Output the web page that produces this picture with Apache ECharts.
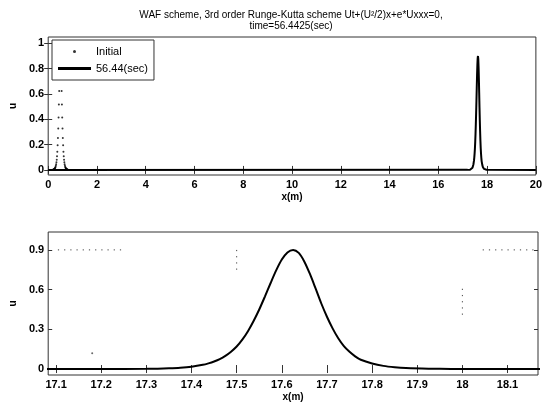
<!DOCTYPE html>
<html><head><meta charset="utf-8">
<script src="https://cdn.jsdelivr.net/npm/echarts@6/dist/echarts.min.js"></script>
<style>html,body{margin:0;padding:0;background:#fff}#c{width:545px;height:407px}</style>
</head><body><div id="c"></div>
<script>
// ---- data ----
const titleLines = ['WAF scheme, 3rd order Runge-Kutta scheme Ut+(U\u00B2/2)x+e*Uxxx=0,', 'time=56.4425(sec)'];
const legendNames = ['Initial', '56.44(sec)'];
const topXTicks = [0, 2, 4, 6, 8, 10, 12, 14, 16, 18, 20];
const topYTicks = [0, 0.2, 0.4, 0.6, 0.8, 1];
const botXTicks = [17.1, 17.2, 17.3, 17.4, 17.5, 17.6, 17.7, 17.8, 17.9, 18, 18.1];
const botYTicks = [0, 0.3, 0.6, 0.9];

// final profile at t = 56.44 s
const finalX = [0, 17.2, 17.3, 17.325, 17.35, 17.375, 17.4, 17.425, 17.4375, 17.45, 17.4625, 17.475, 17.4875, 17.5, 17.5125, 17.525, 17.5375, 17.55, 17.5625, 17.575, 17.5875, 17.6, 17.6125, 17.625, 17.6375, 17.65, 17.6625, 17.675, 17.6875, 17.7, 17.7125, 17.725, 17.7375, 17.75, 17.7625, 17.775, 17.8, 17.825, 17.85, 17.875, 17.925, 17.975, 18.05, 20];
const finalU = [0, 0.0005, 0.002, 0.003, 0.0056, 0.010, 0.018, 0.032, 0.043, 0.057, 0.075, 0.0995, 0.131, 0.170, 0.222, 0.286, 0.363, 0.450, 0.547, 0.648, 0.745, 0.827, 0.881, 0.9, 0.877, 0.811, 0.716, 0.607, 0.495, 0.395, 0.307, 0.232, 0.173, 0.130, 0.096, 0.070, 0.042, 0.024, 0.014, 0.008, 0.003, 0.001, 0, 0];

// initial profile (dots)
const initX = [0.2, 0.2125, 0.225, 0.2375, 0.25, 0.2625, 0.275, 0.2875, 0.3, 0.3125, 0.325, 0.3375, 0.35, 0.3625, 0.375, 0.3875, 0.4, 0.4125, 0.425, 0.4375, 0.45, 0.4625, 0.475, 0.4875, 0.5, 0.5125, 0.525, 0.5375, 0.55, 0.5625, 0.575, 0.5875, 0.6, 0.6125, 0.625, 0.6375, 0.65, 0.6625, 0.675, 0.6875, 0.7, 0.7125, 0.725, 0.7375, 0.75, 0.7625, 0.775, 0.7875, 0.8];
const initU = [0.002, 0.0027, 0.0037, 0.005, 0.007, 0.0095, 0.013, 0.018, 0.024, 0.033, 0.044, 0.060, 0.081, 0.109, 0.144, 0.195, 0.252, 0.327, 0.415, 0.516, 0.623, 0.728, 0.818, 0.878, 0.9, 0.878, 0.818, 0.728, 0.623, 0.516, 0.415, 0.327, 0.252, 0.195, 0.144, 0.109, 0.081, 0.060, 0.044, 0.033, 0.024, 0.018, 0.013, 0.0095, 0.007, 0.005, 0.0037, 0.0027, 0.002];

// stray dotted marks visible in the lower panel
const markAX = [17.104, 17.25], markAU = [0.9, 0.9];
const markBX = [18.045, 18.165], markBU = [0.9, 0.9];
const markCX = [17.5, 17.5], markCU = [0.75, 0.92];
const markDX = [18, 18], markDU = [0.41, 0.61];
const markEX = [17.18], markEU = [0.12];

const zip = (xs, ys) => xs.map((x, i) => [x, ys[i]]);

const font = 'Liberation Sans, Arial, sans-serif';
const lblStyle = { color: '#000', fontFamily: font, fontSize: 11, fontWeight: 'bold' };

function mainX(grid, min, max, ticks, show) {
  return {
    type: 'value', gridIndex: grid, min, max, position: show ? 'bottom' : 'top',
    name: show ? 'x(m)' : '', nameLocation: 'middle', nameGap: 17,
    nameTextStyle: { color: '#000', fontFamily: font, fontSize: 10, fontWeight: 'bold' },
    axisLine: { show: false },
    axisTick: { show: true, inside: true, length: 4, customValues: ticks, lineStyle: { color: '#333' } },
    axisLabel: { show: show, customValues: ticks, margin: 4, ...lblStyle },
    splitLine: { show: false }
  };
}
function mainY(grid, min, max, ticks, show) {
  return {
    type: 'value', gridIndex: grid, min, max, position: show ? 'left' : 'right',
    name: show ? 'u' : '', nameLocation: 'middle', nameGap: 28, nameRotate: 90,
    nameTextStyle: { color: '#000', fontFamily: font, fontSize: 10, fontWeight: 'bold' },
    axisLine: { show: false },
    axisTick: { show: true, inside: true, length: 4, customValues: ticks, lineStyle: { color: '#333' } },
    axisLabel: { show: show, customValues: ticks, margin: 4, ...lblStyle },
    splitLine: { show: false }
  };
}

const markStyle = { color: '#444', width: 1, type: [1.2, 5] };
function markSeries(xs, us) {
  return { type: 'line', xAxisIndex: 2, yAxisIndex: 2, data: zip(xs, us), symbol: 'none',
    lineStyle: markStyle, silent: true, z: 1 };
}

const option = {
  backgroundColor: '#fff',
  animation: false,
  title: {
    text: titleLines.join('\n'), left: 286, top: 5, textAlign: 'center',
    textStyle: { color: '#000', fontFamily: font, fontSize: 10, fontWeight: 'normal', lineHeight: 11 }
  },
  legend: {
    orient: 'vertical', left: 52, top: 40, padding: [6, 6, 6, 6], itemGap: 6,
    itemWidth: 33, itemHeight: 3,
    backgroundColor: '#fff', borderColor: '#333', borderWidth: 1,
    textStyle: { color: '#000', fontFamily: font, fontSize: 11 },
    data: [
      { name: legendNames[0], icon: 'circle', itemStyle: { color: '#000' } },
      { name: legendNames[1], icon: 'rect' }
    ]
  },
  grid: [
    { left: 40, right: 7, top: 37, height: 138, show: true, borderColor: '#333', borderWidth: 1, backgroundColor: 'transparent' },
    { left: 40, right: 7, top: 232, height: 143, show: true, borderColor: '#333', borderWidth: 1, backgroundColor: 'transparent' }
  ],
  xAxis: [
    mainX(0, 0, 20, topXTicks, true),
    mainX(0, 0, 20, topXTicks, false),
    mainX(1, 17.0825, 18.1675, botXTicks, true),
    mainX(1, 17.0825, 18.1675, botXTicks, false)
  ],
  yAxis: [
    mainY(0, -0.04, 1.05, topYTicks, true),
    mainY(0, -0.04, 1.05, topYTicks, false),
    mainY(1, -0.045, 1.035, botYTicks, true),
    mainY(1, -0.045, 1.035, botYTicks, false)
  ],
  series: [
    { name: legendNames[0], type: 'scatter', xAxisIndex: 0, yAxisIndex: 0, data: zip(initX, initU),
      symbol: 'circle', symbolSize: 2, itemStyle: { color: '#000' }, z: 2 },
    { name: legendNames[1], type: 'line', xAxisIndex: 0, yAxisIndex: 0, data: zip(finalX, finalU),
      symbol: 'none', lineStyle: { color: '#000', width: 2 }, itemStyle: { color: '#000' }, z: 3 },
    { name: legendNames[1], type: 'line', xAxisIndex: 2, yAxisIndex: 2, data: zip(finalX, finalU),
      symbol: 'none', smooth: 0.3, lineStyle: { color: '#000', width: 2 }, itemStyle: { color: '#000' }, z: 3 },
    markSeries(markAX, markAU),
    markSeries(markBX, markBU),
    markSeries(markCX, markCU),
    markSeries(markDX, markDU),
    { type: 'scatter', xAxisIndex: 2, yAxisIndex: 2, data: zip(markEX, markEU), symbol: 'circle', symbolSize: 2,
      itemStyle: { color: '#444' }, silent: true }
  ]
};

const chart = echarts.init(document.getElementById('c'), null, { renderer: 'canvas' });
chart.setOption(option);
</script>
</body></html>
